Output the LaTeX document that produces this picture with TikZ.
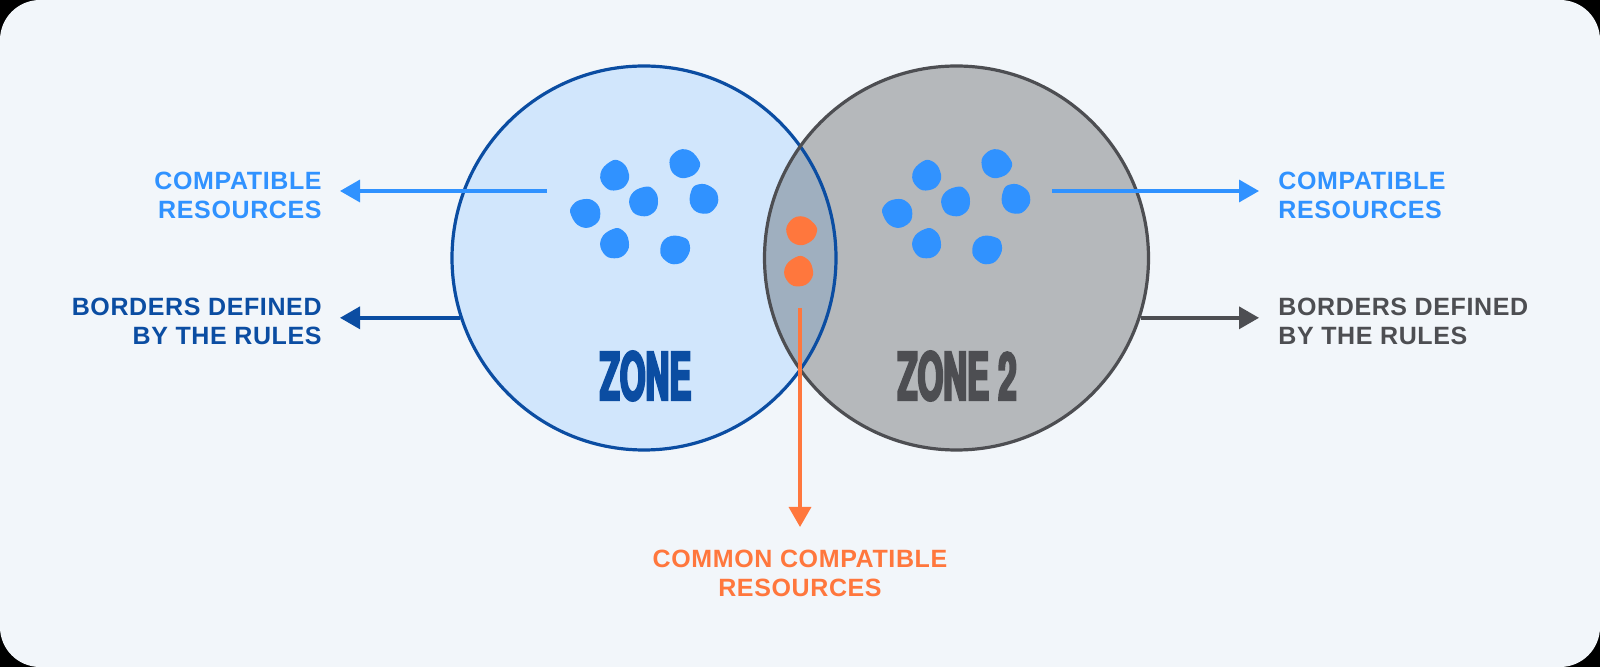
\documentclass[tikz,border=0pt]{standalone}
\usepackage{fontspec}
\setmainfont{Liberation Sans}[LetterSpace=2.5]
\newfontfamily\zonefont[FakeStretch=0.5,FakeBold=3.5]{TeX Gyre Heros}
\usetikzlibrary{arrows.meta}

\definecolor{pagebg}{HTML}{F2F6FA}
\definecolor{zoneAfill}{HTML}{D1E6FC}
\definecolor{zoneBfill}{HTML}{B5B8BB}
\definecolor{lensfill}{HTML}{9FAFBF}
\definecolor{zoneAline}{HTML}{0B4DA2}
\definecolor{zoneBline}{HTML}{4D4E52}
\definecolor{resblue}{HTML}{3092FF}
\definecolor{resorange}{HTML}{FF773D}

\tikzset{
  zonecircle/.style={circle, inner sep=0pt, minimum size=192pt, line width=1.6pt},
  lbl/.style={font=\bfseries\fontsize{12.5}{14.35}\selectfont, inner sep=0pt},
  zonelbl/.style={font=\zonefont\bfseries\fontsize{33}{33}\selectfont, inner sep=0pt},
  connector/.style={line width=1.7pt, -{Triangle[length=10pt,width=11pt]}},
  blob/.pic={
    \path[pic actions] plot[smooth cycle, tension=0.8] coordinates
      {(0,-15) (10,-12) (14,0) (9,11) (-3,14) (-13,7) (-13,-7)};
  }
}

\begin{document}
\begin{tikzpicture}[x=0.5pt,y=-0.5pt]
  \useasboundingbox (0,0) rectangle (1600,667);
  % card background
  \fill[black] (0,0) rectangle (1600,667);
  \fill[pagebg, rounded corners=20pt] (0,0) rectangle (1600,667);

  % the two zones
  \node[zonecircle, fill=zoneAfill] (zone1) at (644,258) {};
  \node[zonecircle, fill=zoneBfill] (zone2) at (956.5,258) {};
  % overlap of the zones
  \begin{scope}
    \clip (zone1.center) circle[radius=192];
    \fill[lensfill] (zone2.center) circle[radius=192];
  \end{scope}
  \draw[zoneAline, line width=1.6pt] (zone1.center) circle[radius=192];
  \draw[zoneBline, line width=1.6pt] (zone2.center) circle[radius=192];

  % resources of zone 1
  \pic[fill=resblue, rotate=20]  at (615,176) {blob};
  \pic[fill=resblue, rotate=-70] at (684,164) {blob};
  \pic[fill=resblue, rotate=100] at (586,213) {blob};
  \pic[fill=resblue, rotate=0]   at (644,202) {blob};
  \pic[fill=resblue, rotate=60]  at (704,199) {blob};
  \pic[fill=resblue, rotate=10]  at (615,244) {blob};
  \pic[fill=resblue, rotate=-30] at (675,250) {blob};
  % resources of zone 2
  \pic[fill=resblue, rotate=20]  at (927,176) {blob};
  \pic[fill=resblue, rotate=-70] at (996,164) {blob};
  \pic[fill=resblue, rotate=100] at (898,213) {blob};
  \pic[fill=resblue, rotate=0]   at (956,202) {blob};
  \pic[fill=resblue, rotate=60]  at (1016,199) {blob};
  \pic[fill=resblue, rotate=10]  at (927,244) {blob};
  \pic[fill=resblue, rotate=-30] at (987,250) {blob};
  % common resources
  \pic[fill=resorange, rotate=-60] at (801,231) {blob};
  \pic[fill=resorange, rotate=15]  at (799,272) {blob};

  % zone names
  \node[zonelbl, text=zoneAline] (name1) at (645.5,376) {ZONE};
  \node[zonelbl, text=zoneBline] (name2) at (957,376) {ZONE 2};

  % labels
  \node[lbl, text=resblue, align=right, anchor=north east] (tl1) at (322,171.5) {COMPATIBLE\\RESOURCES};
  \node[lbl, text=zoneAline, align=right, anchor=north east] (tl2) at (322,298) {BORDERS DEFINED\\BY THE RULES};
  \node[lbl, text=resblue, align=left, anchor=north west] (tr1) at (1278,171.5) {COMPATIBLE\\RESOURCES};
  \node[lbl, text=zoneBline, align=left, anchor=north west] (tr2) at (1278,298) {BORDERS DEFINED\\BY THE RULES};
  \node[lbl, text=resorange, align=center, anchor=north] (tb) at (800,550) {COMMON COMPATIBLE\\RESOURCES};

  % connectors
  \coordinate (resL) at (547,191);
  \coordinate (resR) at (1052,191);
  \coordinate (common) at (800,308);
  \draw[connector, resblue, shorten >=9pt] (resL) -- (resL -| tl1.east);
  \draw[connector, zoneAline, shorten >=9pt] (zone1.198) -- (zone1.198 -| tl2.east);
  \draw[connector, resblue, shorten >=9.5pt] (resR) -- (resR -| tr1.west);
  \draw[connector, zoneBline, shorten >=9.5pt] (zone2.342) -- (zone2.342 -| tr2.west);
  \draw[connector, resorange, shorten >=11.5pt] (common) -- (common |- tb.north);
\end{tikzpicture}
\end{document}
